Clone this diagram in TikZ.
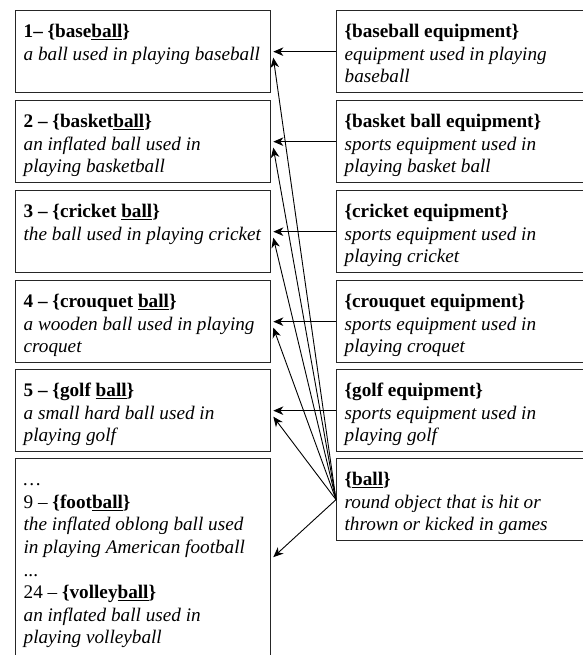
\documentclass[tikz,border=0pt]{standalone}
\usepackage{fontspec}
\setmainfont{Liberation Serif}
\usetikzlibrary{arrows.meta,calc}
\newcommand{\ubal}{\underline{ball}}
\newcommand{\boxtxt}[3]{\parbox[c][#1][t]{#2}{\raggedright\rule{0pt}{27bp}#3}}
\tikzset{
  box/.style={draw=black!85, line width=1.3bp, anchor=north west, inner xsep=8bp, inner ysep=0pt,
    font=\fontsize{19.2bp}{22.6bp}\selectfont},
  arr/.style={-{Stealth[length=10bp,width=8.5bp,inset=3bp]}, line width=0.9bp, black}
}
\begin{document}
\begin{tikzpicture}[x=1bp,y=-1bp]
\useasboundingbox (0,0) rectangle (583,655);
% left column
\node[box] (l1) at (15,10) {\boxtxt{82bp}{239bp}{\textbf{1– \{base\ubal\}}\\ \textit{a ball used in playing baseball}}};
\node[box] (l2) at (15,100) {\boxtxt{82bp}{239bp}{\textbf{2 – \{basket\ubal\}}\\ \textit{an inflated ball used in}\\ \textit{playing basketball}}};
\node[box] (l3) at (15,190) {\boxtxt{82bp}{239bp}{\textbf{3 – \{cricket \ubal\}}\\ \textit{the ball used in playing cricket}}};
\node[box] (l4) at (15,280) {\boxtxt{82bp}{239bp}{\textbf{4 – \{crouquet \ubal\}}\\ \textit{a wooden ball used in playing}\\ \textit{croquet}}};
\node[box] (l5) at (15,369) {\boxtxt{82bp}{239bp}{\textbf{5 – \{golf \ubal\}}\\ \textit{a small hard ball used in}\\ \textit{playing golf}}};
\node[box] (l6) at (15,458) {\boxtxt{207bp}{239bp}{\textit{…}\\ 9 – \textbf{\{foot\ubal\}}\\ \textit{the inflated oblong ball used}\\ \textit{in playing American football}\\ ...\\ 24 – \textbf{\{volley\ubal\}}\\ \textit{an inflated ball used in}\\ \textit{playing volleyball}}};
% right column
\node[box] (r1) at (336,10) {\boxtxt{82bp}{240bp}{\textbf{\{baseball equipment\}}\\ \textit{equipment used in playing}\\ \textit{baseball}}};
\node[box] (r2) at (336,100) {\boxtxt{82bp}{240bp}{\textbf{\{basket ball equipment\}}\\ \textit{sports equipment used in}\\ \textit{playing basket ball}}};
\node[box] (r3) at (336,190) {\boxtxt{82bp}{240bp}{\textbf{\{cricket equipment\}}\\ \textit{sports equipment used in}\\ \textit{playing cricket}}};
\node[box] (r4) at (336,280) {\boxtxt{82bp}{240bp}{\textbf{\{crouquet equipment\}}\\ \textit{sports equipment used in}\\ \textit{playing croquet}}};
\node[box] (r5) at (336,369) {\boxtxt{82bp}{240bp}{\textbf{\{golf equipment\}}\\ \textit{sports equipment used in}\\ \textit{playing golf}}};
\node[box] (ball) at (336,458) {\boxtxt{82bp}{240bp}{\textbf{\{\ubal\}}\\ \textit{round object that is hit or}\\ \textit{thrown or kicked in games}}};
% arrows
\foreach \i in {1,...,5}{
  \draw[arr] (r\i.west) -- ($(l\i.east)+(2,0)$);
  \draw[arr] (ball.west) -- ($(l\i.east)+(2,6)$);
}
\draw[arr] (ball.west) -- ($(l6.east)+(2,-5)$);
\end{tikzpicture}
\end{document}
